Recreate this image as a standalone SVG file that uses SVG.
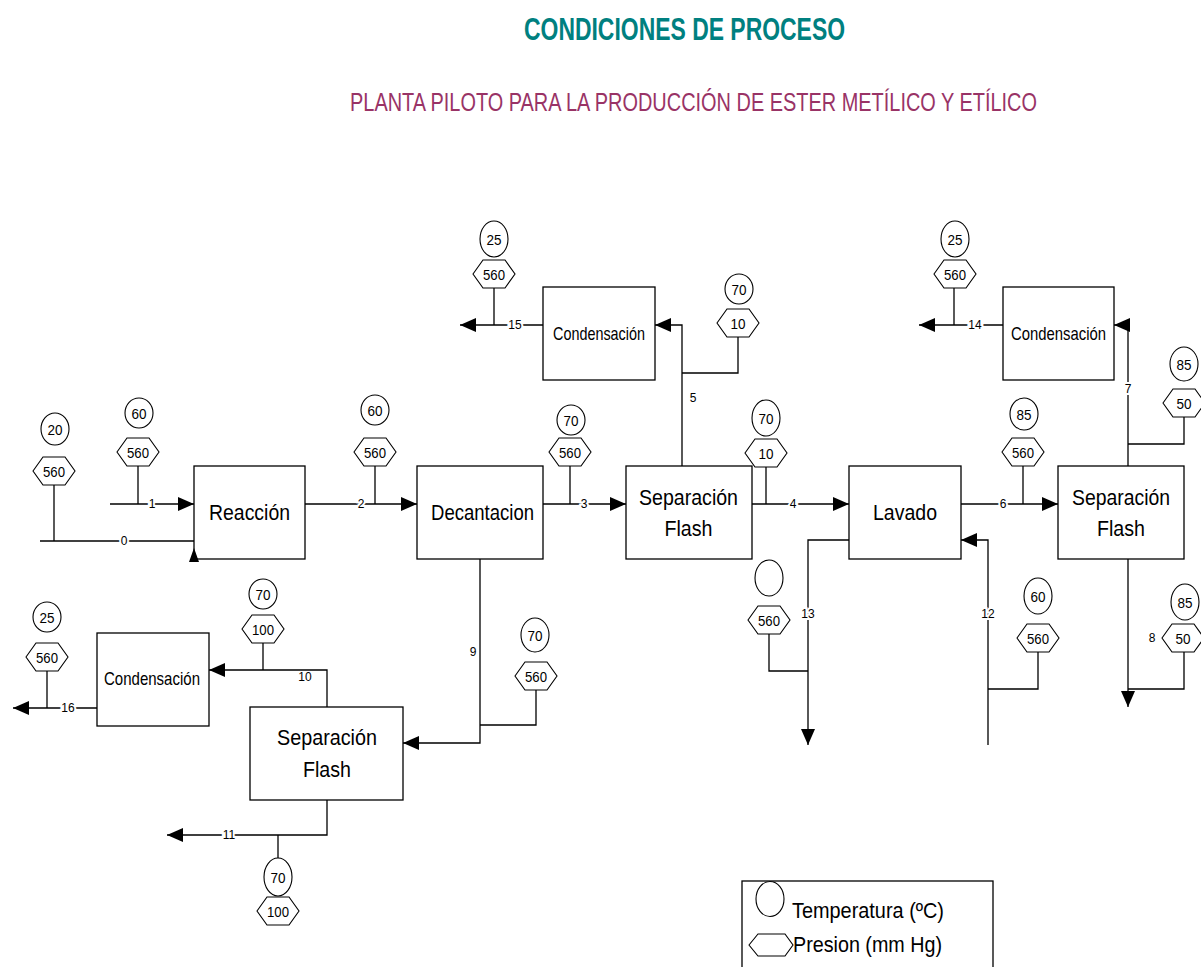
<svg xmlns="http://www.w3.org/2000/svg" width="1201" height="967" viewBox="0 0 1201 967">
<defs>
<style>
.box{fill:#fff;stroke:#000;stroke-width:1.3}
.ln{fill:none;stroke:#000;stroke-width:1.3}
.sym{fill:#fff;stroke:#000;stroke-width:1.1}
text{font-family:"Liberation Sans",Arial,sans-serif;fill:#000}
.bt{font-size:22px;text-anchor:middle}
.ct{font-size:19px;text-anchor:middle}
.nt{font-size:15px;text-anchor:middle}
.lb{font-size:12px;text-anchor:middle;paint-order:stroke;stroke:#fff;stroke-width:4px}
.lb2{font-size:12px;text-anchor:middle}
</style>
<marker id="ah" markerUnits="userSpaceOnUse" markerWidth="16" markerHeight="14" refX="16" refY="7" orient="auto">
<path d="M0,0 L16,7 L0,14 z" fill="#000"/>
</marker>
<polygon id="hex" points="-21,0 -11,-14 11,-14 21,0 11,14 -11,14" class="sym"/>
</defs>
<rect width="1201" height="967" fill="#fff"/>

<text x="524" y="40" font-size="31" font-weight="bold" style="fill:#008080" textLength="321" lengthAdjust="spacingAndGlyphs">CONDICIONES DE PROCESO</text>
<text x="350" y="111" font-size="25" style="fill:#993366" textLength="687" lengthAdjust="spacingAndGlyphs">PLANTA PILOTO PARA LA PRODUCCIÓN DE ESTER METÍLICO Y ETÍLICO</text>

<g id="connectors">
<path class="ln" d="M40,541 H194"/>
<path class="ln" d="M54,485 V541"/>
<path class="ln" d="M110,504 H194" marker-end="url(#ah)"/>
<path class="ln" d="M138,466 V504"/>
<path class="ln" d="M305,504 H417" marker-end="url(#ah)"/>
<path class="ln" d="M375,466 V504"/>
<path class="ln" d="M543,504 H626" marker-end="url(#ah)"/>
<path class="ln" d="M570,466 V504"/>
<path class="ln" d="M752,504 H849" marker-end="url(#ah)"/>
<path class="ln" d="M766,467 V504"/>
<path class="ln" d="M682,466 V325 H655" marker-end="url(#ah)"/>
<path class="ln" d="M682,373 H738 V337"/>
<path class="ln" d="M543,325 H460" marker-end="url(#ah)"/>
<path class="ln" d="M494,288 V325"/>
<path class="ln" d="M1003,325 H919" marker-end="url(#ah)"/>
<path class="ln" d="M954,288 V325"/>
<path class="ln" d="M1128,466 V325 H1114" marker-end="url(#ah)"/>
<path class="ln" d="M1128,444 H1184 V417"/>
<path class="ln" d="M961,504 H1058" marker-end="url(#ah)"/>
<path class="ln" d="M1023,466 V504"/>
<path class="ln" d="M849,540 H808 V745" marker-end="url(#ah)"/>
<path class="ln" d="M808,671 H769 V634"/>
<path class="ln" d="M988,745 V540 H961" marker-end="url(#ah)"/>
<path class="ln" d="M988,689 H1038 V652"/>
<path class="ln" d="M1128,559 V707" marker-end="url(#ah)"/>
<path class="ln" d="M1128,689 H1184 V652"/>
<path class="ln" d="M480,559 V743 H403" marker-end="url(#ah)"/>
<path class="ln" d="M480,725 H536 V690"/>
<path class="ln" d="M327,707 V670 H209" marker-end="url(#ah)"/>
<path class="ln" d="M263,643 V670"/>
<path class="ln" d="M97,708 H13" marker-end="url(#ah)"/>
<path class="ln" d="M47,671 V708"/>
<path class="ln" d="M327,800 V835 H167" marker-end="url(#ah)"/>
<path class="ln" d="M278,835 V858"/>
<text class="lb" x="124" y="545">0</text>
<text class="lb" x="152" y="508">1</text>
<text class="lb" x="361" y="508">2</text>
<text class="lb" x="584" y="508">3</text>
<text class="lb" x="793" y="508">4</text>
<text class="lb2" x="693" y="402">5</text>
<text class="lb" x="1003" y="508">6</text>
<text class="lb" x="1128" y="393">7</text>
<text class="lb2" x="1152" y="642">8</text>
<text class="lb2" x="473" y="656">9</text>
<text class="lb2" x="305" y="681">10</text>
<text class="lb" x="229" y="839">11</text>
<text class="lb" x="988" y="618">12</text>
<text class="lb" x="808" y="618">13</text>
<text class="lb" x="975" y="329">14</text>
<text class="lb" x="515" y="329">15</text>
<text class="lb" x="68" y="712">16</text>
</g>

<g id="reaccion"><rect class="box" x="194" y="466" width="111" height="93"/><text class="bt" x="249.5" y="520" textLength="81" lengthAdjust="spacingAndGlyphs">Reacción</text></g>
<g id="decantacion"><rect class="box" x="417" y="466" width="126" height="93"/><text class="bt" x="482.5" y="520" textLength="103" lengthAdjust="spacingAndGlyphs">Decantacion</text></g>
<g id="sep-flash-1"><rect class="box" x="626" y="466" width="126" height="93"/><text class="bt" x="688.5" y="505" textLength="99" lengthAdjust="spacingAndGlyphs">Separación</text><text class="bt" x="688.5" y="536" textLength="48" lengthAdjust="spacingAndGlyphs">Flash</text></g>
<g id="lavado"><rect class="box" x="849" y="466" width="112" height="93"/><text class="bt" x="905" y="520" textLength="64" lengthAdjust="spacingAndGlyphs">Lavado</text></g>
<g id="sep-flash-2"><rect class="box" x="1058" y="466" width="126" height="93"/><text class="bt" x="1121" y="505" textLength="98" lengthAdjust="spacingAndGlyphs">Separación</text><text class="bt" x="1121" y="536" textLength="48" lengthAdjust="spacingAndGlyphs">Flash</text></g>
<g id="condensacion-1"><rect class="box" x="543" y="287" width="112" height="93"/><text class="ct" x="599" y="340" textLength="92" lengthAdjust="spacingAndGlyphs">Condensación</text></g>
<g id="condensacion-2"><rect class="box" x="1003" y="287" width="111" height="93"/><text class="ct" x="1058.5" y="340" textLength="95" lengthAdjust="spacingAndGlyphs">Condensación</text></g>
<g id="condensacion-3"><rect class="box" x="97" y="633" width="112" height="93"/><text class="ct" x="152" y="685" textLength="96" lengthAdjust="spacingAndGlyphs">Condensación</text></g>
<g id="sep-flash-3"><rect class="box" x="250" y="707" width="153" height="93"/><text class="bt" x="327" y="745" textLength="100" lengthAdjust="spacingAndGlyphs">Separación</text><text class="bt" x="327" y="777" textLength="48" lengthAdjust="spacingAndGlyphs">Flash</text></g>

<g id="connector-0-arrow"><polygon points="189,562 199,562 194,548" fill="#000"/></g>

<g id="tags">
<g id="t0"><ellipse class="sym" cx="55" cy="429" rx="14" ry="16"/><text class="nt" x="55" y="434.5" textLength="15" lengthAdjust="spacingAndGlyphs">20</text><use href="#hex" x="54" y="471"/><text class="nt" x="54" y="476.5" textLength="22" lengthAdjust="spacingAndGlyphs">560</text></g>
<g id="t1"><ellipse class="sym" cx="139" cy="413" rx="14" ry="15"/><text class="nt" x="139" y="418.5" textLength="15" lengthAdjust="spacingAndGlyphs">60</text><use href="#hex" x="138" y="452"/><text class="nt" x="138" y="457.5" textLength="22" lengthAdjust="spacingAndGlyphs">560</text></g>
<g id="t2"><ellipse class="sym" cx="375" cy="410" rx="14" ry="15"/><text class="nt" x="375" y="415.5" textLength="15" lengthAdjust="spacingAndGlyphs">60</text><use href="#hex" x="375" y="452"/><text class="nt" x="375" y="457.5" textLength="22" lengthAdjust="spacingAndGlyphs">560</text></g>
<g id="t3"><ellipse class="sym" cx="571" cy="420" rx="14" ry="15"/><text class="nt" x="571" y="425.5" textLength="15" lengthAdjust="spacingAndGlyphs">70</text><use href="#hex" x="570" y="452"/><text class="nt" x="570" y="457.5" textLength="22" lengthAdjust="spacingAndGlyphs">560</text></g>
<g id="t4"><ellipse class="sym" cx="766" cy="418" rx="14" ry="18"/><text class="nt" x="766" y="423.5" textLength="15" lengthAdjust="spacingAndGlyphs">70</text><use href="#hex" x="766" y="453"/><text class="nt" x="766" y="458.5" textLength="15" lengthAdjust="spacingAndGlyphs">10</text></g>
<g id="t5"><ellipse class="sym" cx="739" cy="289" rx="14" ry="15"/><text class="nt" x="739" y="294.5" textLength="15" lengthAdjust="spacingAndGlyphs">70</text><use href="#hex" x="738" y="323"/><text class="nt" x="738" y="328.5" textLength="15" lengthAdjust="spacingAndGlyphs">10</text></g>
<g id="t15"><ellipse class="sym" cx="494" cy="239" rx="14" ry="18"/><text class="nt" x="494" y="244.5" textLength="15" lengthAdjust="spacingAndGlyphs">25</text><use href="#hex" x="494" y="274"/><text class="nt" x="494" y="279.5" textLength="22" lengthAdjust="spacingAndGlyphs">560</text></g>
<g id="t14"><ellipse class="sym" cx="955" cy="239" rx="14" ry="18"/><text class="nt" x="955" y="244.5" textLength="15" lengthAdjust="spacingAndGlyphs">25</text><use href="#hex" x="955" y="274"/><text class="nt" x="955" y="279.5" textLength="22" lengthAdjust="spacingAndGlyphs">560</text></g>
<g id="t7"><ellipse class="sym" cx="1184" cy="364" rx="14" ry="17"/><text class="nt" x="1184" y="369.5" textLength="15" lengthAdjust="spacingAndGlyphs">85</text><use href="#hex" x="1184" y="403"/><text class="nt" x="1184" y="408.5" textLength="15" lengthAdjust="spacingAndGlyphs">50</text></g>
<g id="t6"><ellipse class="sym" cx="1024" cy="414" rx="14" ry="16"/><text class="nt" x="1024" y="419.5" textLength="15" lengthAdjust="spacingAndGlyphs">85</text><use href="#hex" x="1023" y="452"/><text class="nt" x="1023" y="457.5" textLength="22" lengthAdjust="spacingAndGlyphs">560</text></g>
<g id="t13"><ellipse class="sym" cx="769" cy="578" rx="14" ry="18"/><use href="#hex" x="769" y="620"/><text class="nt" x="769" y="625.5" textLength="22" lengthAdjust="spacingAndGlyphs">560</text></g>
<g id="t12"><ellipse class="sym" cx="1038" cy="596" rx="14" ry="18"/><text class="nt" x="1038" y="601.5" textLength="15" lengthAdjust="spacingAndGlyphs">60</text><use href="#hex" x="1038" y="638"/><text class="nt" x="1038" y="643.5" textLength="22" lengthAdjust="spacingAndGlyphs">560</text></g>
<g id="t8"><ellipse class="sym" cx="1185" cy="602" rx="14" ry="18"/><text class="nt" x="1185" y="607.5" textLength="15" lengthAdjust="spacingAndGlyphs">85</text><use href="#hex" x="1183" y="638"/><text class="nt" x="1183" y="643.5" textLength="15" lengthAdjust="spacingAndGlyphs">50</text></g>
<g id="t9"><ellipse class="sym" cx="535" cy="635" rx="14" ry="17"/><text class="nt" x="535" y="640.5" textLength="15" lengthAdjust="spacingAndGlyphs">70</text><use href="#hex" x="536" y="676"/><text class="nt" x="536" y="681.5" textLength="22" lengthAdjust="spacingAndGlyphs">560</text></g>
<g id="t10"><ellipse class="sym" cx="263" cy="594" rx="14" ry="15"/><text class="nt" x="263" y="599.5" textLength="15" lengthAdjust="spacingAndGlyphs">70</text><use href="#hex" x="263" y="629"/><text class="nt" x="263" y="634.5" textLength="22" lengthAdjust="spacingAndGlyphs">100</text></g>
<g id="t16"><ellipse class="sym" cx="47" cy="617" rx="14" ry="15"/><text class="nt" x="47" y="622.5" textLength="15" lengthAdjust="spacingAndGlyphs">25</text><use href="#hex" x="47" y="657"/><text class="nt" x="47" y="662.5" textLength="22" lengthAdjust="spacingAndGlyphs">560</text></g>
<g id="t11"><ellipse class="sym" cx="278" cy="877" rx="14" ry="19"/><text class="nt" x="278" y="882.5" textLength="15" lengthAdjust="spacingAndGlyphs">70</text><use href="#hex" x="278" y="911"/><text class="nt" x="278" y="916.5" textLength="22" lengthAdjust="spacingAndGlyphs">100</text></g>
</g>

<g id="legend">
<rect x="742" y="881" width="251" height="100" fill="none" stroke="#000" stroke-width="1.3"/>
<ellipse class="sym" cx="770" cy="899" rx="14" ry="17.5"/>
<text x="792" y="918" font-size="22" textLength="152" lengthAdjust="spacingAndGlyphs">Temperatura (ºC)</text>
<polygon class="sym" points="749,945 758,934 785,934 793,945 785,956 758,956"/>
<text x="793" y="952" font-size="22" textLength="149" lengthAdjust="spacingAndGlyphs">Presion (mm Hg)</text>
</g>
</svg>
